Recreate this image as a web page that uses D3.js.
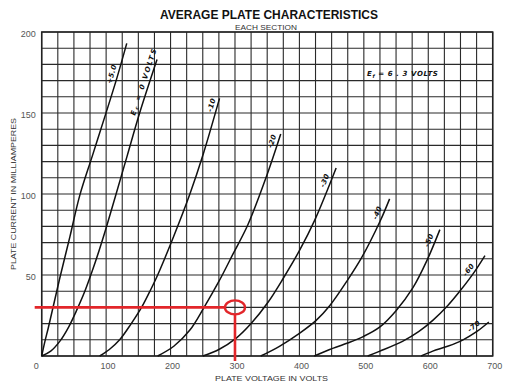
<!DOCTYPE html>
<html>
<head>
<meta charset="utf-8">
<script src="https://cdn.jsdelivr.net/npm/d3@7"></script>
<style>
  body { margin: 0; background: #fff; }
  svg { display: block; }
</style>
</head>
<body>
<div id="vis-container"></div>
<script>
// grid bias of each curve
const gridBias = ["+5.0", "0", "-10", "-20", "-30", "-40", "-50", "-60", "-70"];

// plate volts / plate milliamps
const curveVolts = [
  [0, 5, 10, 17, 28, 44, 59, 79, 99, 117, 132],
  [0, 14, 28, 42, 54, 66, 78, 89, 100, 114, 133, 152, 179],
  [90, 105, 121, 139, 155, 168, 180, 204, 230, 251, 276],
  [180, 205, 230, 252, 275, 297, 320, 349, 371],
  [250, 275, 302, 325, 351, 375, 400, 424, 457],
  [340, 369, 400, 426, 447, 475, 497, 525, 540],
  [423, 447, 475, 499, 525, 550, 576, 598, 618],
  [506, 525, 560, 585, 607, 630, 651, 670, 688],
  [589, 607, 630, 654, 675, 694]
];
const curveMilliamps = [
  [0, 9, 17, 29, 48, 74, 99, 124, 149, 172, 193],
  [0, 3, 9, 18, 28, 39, 52, 65, 79, 98, 124, 150, 183],
  [0, 4, 10, 20, 30, 40, 50, 73, 100, 125, 159],
  [0, 6, 16, 30, 46, 63, 81, 111, 137],
  [0, 4, 11, 20, 33, 48, 65, 84, 116],
  [0, 6, 14, 22, 31, 47, 61, 83, 97],
  [0, 4, 8, 12, 18, 28, 42, 59, 78],
  [0, 3, 9, 15, 22, 31, 41, 51, 62],
  [0, 3, 6, 10, 15, 21]
];
// plate current where each curve label sits
const labelMilliamps = [173, 168, 154, 131.5, 107, 87, 70, 51, 15.5];

const xTicks = [0, 100, 200, 300, 400, 500, 600, 700];
const yTicks = [50, 100, 150, 200];

// marked operating point
const markVolts = 300, markMilliamps = 30;

const margin = { top: 32, right: 13.3, bottom: 30, left: 41.7 },
      width = 506 - margin.left - margin.right,
      height = 386 - margin.top - margin.bottom;

const root = d3.select("#vis-container")
  .append("svg")
    .attr("width", 506)
    .attr("height", 386);

const svg = root.append("g")
    .attr("transform", `translate(${margin.left},${margin.top})`);

const x = d3.scaleLinear().domain([0, 700]).range([0, width]);
const y = d3.scaleLinear().domain([0, 200]).range([height, 0]);

// Grid
svg.append("g")
  .selectAll("line")
  .data(d3.range(0, 701, 25))
  .join("line")
    .attr("x1", d => x(d)).attr("x2", d => x(d))
    .attr("y1", 0).attr("y2", height)
    .attr("stroke", "#2a2a2a").attr("stroke-width", 1.1);

svg.append("g")
  .selectAll("line")
  .data(d3.range(0, 201, 10))
  .join("line")
    .attr("x1", 0).attr("x2", width)
    .attr("y1", d => y(d)).attr("y2", d => y(d))
    .attr("stroke", "#2a2a2a").attr("stroke-width", 1.1);

svg.append("rect")
  .attr("width", width).attr("height", height)
  .attr("fill", "none").attr("stroke", "#222").attr("stroke-width", 1.5);

// Axes labels
const xAxis = svg.append("g")
  .attr("transform", `translate(0,${height})`)
  .call(d3.axisBottom(x).tickValues(xTicks).tickSize(0).tickPadding(7));
xAxis.select(".domain").remove();
xAxis.selectAll("text")
  .attr("dx", d => d === 0 ? -6 : 1.5)
  .style("font-family", "Liberation Sans, Arial, sans-serif")
  .style("font-size", "9px").attr("fill", "#555");

const yAxis = svg.append("g")
  .call(d3.axisLeft(y).tickValues(yTicks).tickSize(0).tickPadding(6));
yAxis.select(".domain").remove();
yAxis.selectAll("text")
  .attr("dy", "0.5em")
  .style("font-family", "Liberation Sans, Arial, sans-serif")
  .style("font-size", "9px").attr("fill", "#555");

// Curves
const line = d3.line()
  .x(d => x(d[0]))
  .y(d => y(d[1]))
  .curve(d3.curveCatmullRom.alpha(0.5));

gridBias.forEach((bias, k) => {
  const pts = curveVolts[k].map((v, j) => [v, curveMilliamps[k][j]]);
  svg.append("path")
    .datum(pts)
    .attr("fill", "none")
    .attr("stroke", "#111")
    .attr("stroke-width", 1.5)
    .attr("d", line);

  // label sits beside the curve, turned along it
  const mA = labelMilliamps[k];
  let j = pts.findIndex((p, n) => n < pts.length - 1 && pts[n + 1][1] >= mA);
  if (j < 0) j = pts.length - 2;
  const a = pts[j], b = pts[j + 1];
  const t = (mA - a[1]) / (b[1] - a[1]);
  const v = a[0] + t * (b[0] - a[0]);
  const dx = x(b[0]) - x(a[0]), dy = y(b[1]) - y(a[1]);
  const len = Math.hypot(dx, dy);
  const off = 5.5;
  const px = x(v) + (dy / len) * off, py = y(mA) - (dx / len) * off;
  const angle = Math.atan2(dy, dx) * 180 / Math.PI;

  const label = svg.append("text")
    .attr("transform", `translate(${px},${py}) rotate(${angle})`)
    .attr("text-anchor", "middle")
    .attr("dominant-baseline", "middle")
    .style("font-family", "DejaVu Sans, sans-serif")
    .style("font-style", "italic")
    .style("font-weight", "bold")
    .style("font-size", "7px")
    .style("letter-spacing", "0.4px")
    .attr("fill", "#111");

  if (bias === "0") {
    label.attr("textLength", 70).attr("lengthAdjust", "spacing");
    label.append("tspan").text("E");
    label.append("tspan").attr("dy", 2).style("font-size", "5px").text("c");
    label.append("tspan").attr("dy", -2).text(" = 0 VOLTS");
  } else {
    label.text(bias);
  }
});

// Heater note
const ef = svg.append("text")
  .attr("x", x(505)).attr("y", y(173))
  .style("font-family", "DejaVu Sans, sans-serif")
  .style("font-style", "italic")
  .style("font-weight", "bold")
  .style("font-size", "7px")
  .style("letter-spacing", "0.6px")
  .attr("fill", "#111");
ef.append("tspan").text("E");
ef.append("tspan").attr("dy", 2).style("font-size", "5px").text("f");
ef.append("tspan").attr("dy", -2).text(" = 6 . 3 VOLTS");

// Red operating point marker
const red = "#e2262a";
svg.append("line")
  .attr("x1", x(0) - 7).attr("x2", x(markVolts) - 10)
  .attr("y1", y(markMilliamps)).attr("y2", y(markMilliamps))
  .attr("stroke", red).attr("stroke-width", 2.6);
svg.append("line")
  .attr("x1", x(markVolts)).attr("x2", x(markVolts))
  .attr("y1", y(markMilliamps) + 7).attr("y2", y(0) + 5)
  .attr("stroke", red).attr("stroke-width", 2.6);
svg.append("ellipse")
  .attr("cx", x(markVolts)).attr("cy", y(markMilliamps))
  .attr("rx", 10).attr("ry", 7)
  .attr("fill", "none").attr("stroke", red).attr("stroke-width", 2.4);

// Titles
root.append("text")
  .attr("x", 269).attr("y", 19)
  .attr("text-anchor", "middle")
  .attr("textLength", 218).attr("lengthAdjust", "spacingAndGlyphs")
  .style("font-family", "Liberation Sans, Arial, sans-serif")
  .style("font-weight", "bold")
  .style("font-size", "12.5px")
  .attr("fill", "#111")
  .text("AVERAGE PLATE CHARACTERISTICS");

root.append("text")
  .attr("x", 266).attr("y", 29.5)
  .attr("text-anchor", "middle")
  .attr("textLength", 62).attr("lengthAdjust", "spacingAndGlyphs")
  .style("font-family", "Liberation Sans, Arial, sans-serif")
  .style("font-size", "7.5px")
  .attr("fill", "#333")
  .text("EACH SECTION");

root.append("text")
  .attr("x", 271.5).attr("y", 381)
  .attr("text-anchor", "middle")
  .attr("textLength", 113).attr("lengthAdjust", "spacingAndGlyphs")
  .style("font-family", "Liberation Sans, Arial, sans-serif")
  .style("font-size", "8px")
  .attr("fill", "#333")
  .text("PLATE VOLTAGE IN VOLTS");

root.append("text")
  .attr("transform", "translate(16,194) rotate(-90)")
  .attr("text-anchor", "middle")
  .attr("textLength", 152).attr("lengthAdjust", "spacingAndGlyphs")
  .style("font-family", "Liberation Sans, Arial, sans-serif")
  .style("font-size", "8px")
  .attr("fill", "#333")
  .text("PLATE CURRENT IN MILLIAMPERES");
</script>
</body>
</html>
